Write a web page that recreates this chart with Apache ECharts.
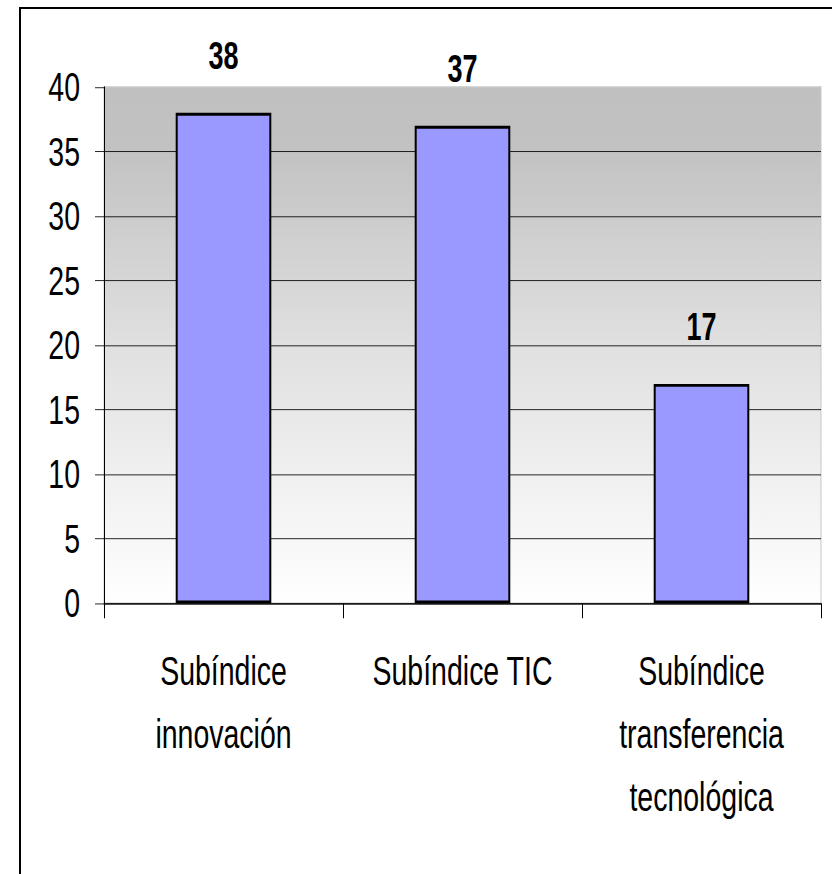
<!DOCTYPE html>
<html>
<head>
<meta charset="utf-8">
<script src="https://cdn.jsdelivr.net/npm/echarts@6/dist/echarts.min.js"></script>
<style>
html,body{margin:0;padding:0;background:#fff;overflow:hidden;}
#wrap{position:relative;width:832px;height:874px;overflow:hidden;}
#c{position:absolute;left:0;top:0;width:832px;height:603px;transform:scaleY(1.45);transform-origin:0 0;}
#frame{position:absolute;left:19px;top:7px;width:900px;height:900px;border-top:2px solid #000;border-left:2px solid #000;pointer-events:none;}
</style>
</head>
<body>
<div id="wrap">
<div id="c"></div>
<div id="frame"></div>
</div>
<script>
const categories = ['Subíndice\ninnovación', 'Subíndice TIC', 'Subíndice\ntransferencia\ntecnológica'];
const values = [38, 37, 17];
const yTicks = [0, 5, 10, 15, 20, 25, 30, 35, 40];

const K = 1.45; // vertical stretch of the original picture
const FONT = "'Liberation Sans', Arial, sans-serif";
const chart = echarts.init(document.getElementById('c'), null, {renderer: 'svg'});
chart.setOption({
  animation: false,
  backgroundColor: '#fff',
  grid: {
    left: 104, right: 11, top: 87 / K, bottom: 271 / K,
    show: true,
    backgroundColor: {
      type: 'linear', x: 0, y: 0, x2: 0, y2: 1,
      colorStops: [
        {offset: 0, color: '#c0c0c0'},
        {offset: 0.12, color: '#c2c2c2'},
        {offset: 0.5, color: '#e0e0e0'},
        {offset: 1, color: '#ffffff'}
      ]
    },
    borderColor: '#c8c8c8',
    borderWidth: 1
  },
  xAxis: {
    type: 'category',
    data: categories,
    axisLine: {lineStyle: {color: '#000', width: 1.3 / K}},
    axisTick: {show: true, length: 15 / K, lineStyle: {color: '#000', width: 1}},
    axisLabel: {
      interval: 0,
      color: '#000',
      fontFamily: FONT,
      fontSize: 28.5,
      lineHeight: 63 / K,
      margin: 25
    }
  },
  yAxis: {
    type: 'value',
    min: 0, max: 40, interval: 5,
    axisLine: {show: true, lineStyle: {color: '#000', width: 1}},
    axisTick: {show: true, length: 9, lineStyle: {color: '#000', width: 1 / K}},
    axisLabel: {
      color: '#000',
      fontFamily: FONT,
      fontSize: 28.5,
      margin: 24,
      padding: [0, 0, 5 / K, 0],
      formatter: function (v) { return yTicks.indexOf(v) >= 0 ? String(v) : ''; }
    },
    splitLine: {
      show: true,
      lineStyle: {color: ['#000','#000','#000','#000','#000','#000','#000','#000','rgba(0,0,0,0)'], width: 1 / K}
    }
  },
  series: [{
    type: 'bar',
    data: values,
    barWidth: '40%',
    itemStyle: {color: '#9999ff', borderColor: '#000', borderWidth: 2},
    label: {
      show: true,
      position: 'top',
      distance: 26,
      color: '#000',
      fontFamily: FONT,
      fontWeight: 'bold',
      fontSize: 27
    }
  }]
});
</script>
</body>
</html>
